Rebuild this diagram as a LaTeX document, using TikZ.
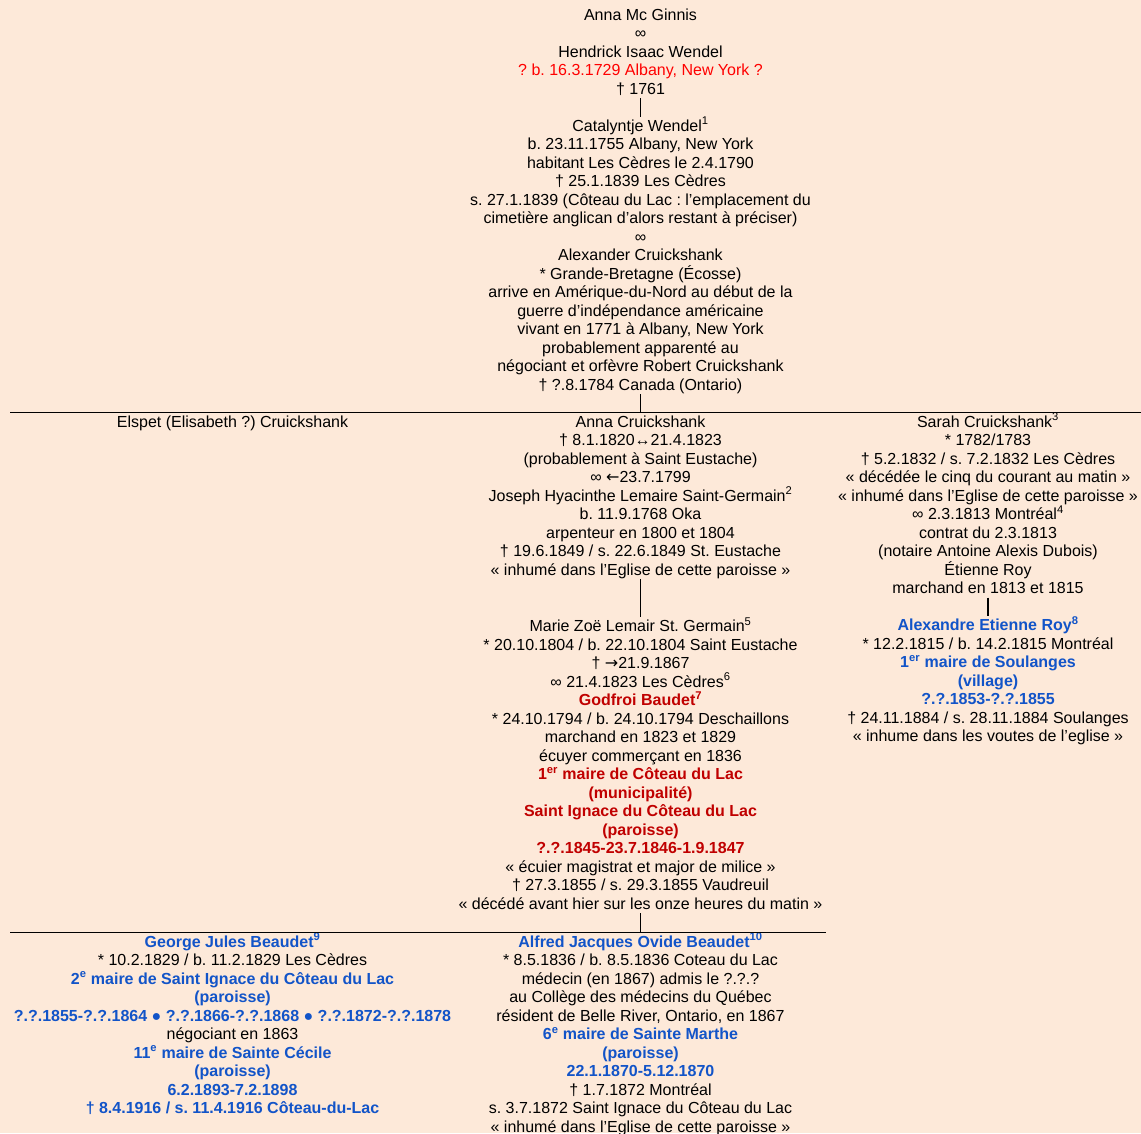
\documentclass[tikz,border=0pt]{standalone}
\usepackage{fontspec}
\setmainfont{Liberation Sans}
\newfontfamily\arrowfont{DejaVu Sans}
\usetikzlibrary{positioning}
\definecolor{peach}{HTML}{FDE9D9}
\definecolor{doubtred}{HTML}{FF0000}
\definecolor{mayorred}{HTML}{C00000}
\definecolor{mayorblue}{HTML}{1254C8}
\newcommand{\linestrut}{\rule[-4pt]{0pt}{18.5pt}}
\newcommand{\doubt}[1]{\textcolor{doubtred}{#1}}
\newcommand{\redmayor}[1]{\textcolor{mayorred}{\bfseries #1}}
\newcommand{\bluemayor}[1]{\textcolor{mayorblue}{\bfseries #1}}
\frenchspacing

\begin{document}
\begin{tikzpicture}[x=1pt,y=-1pt,node distance=18.5pt,
    person/.style={align=center,inner sep=0pt,outer sep=0pt,
        font=\fontsize{16}{18.5}\selectfont\linestrut},
    bar/.style={line width=1.8pt},
    link/.style={line width=1.1pt}]
    \fill[peach] (0,0) rectangle (1141,1133);
    \useasboundingbox (0,0) rectangle (1141,1133);
    \coordinate (leftedge) at (10,0);
    \coordinate (rightedge) at (1141,0);
    \coordinate (bar2end) at (826,0);
    \coordinate (leftcol) at (232.5,0);
    \coordinate (rightcol) at (988,0);

    \node[person,anchor=north] (wendel) at (640.5,5.5)
        {\linestrut Anna Mc Ginnis\\
         ∞\\
         Hendrick Isaac Wendel\\
         \doubt{? b. 16.3.1729 Albany, New York ?}\\
         † 1761};
    \node[person,below=of wendel] (catalyntje)
        {\linestrut Catalyntje Wendel\textsuperscript{1}\\
         b. 23.11.1755 Albany, New York\\
         habitant Les Cèdres le 2.4.1790\\
         † 25.1.1839 Les Cèdres\\
         s. 27.1.1839 (Côteau du Lac : l’emplacement du\\
         cimetière anglican d’alors restant à préciser)\\
         ∞\\
         Alexander Cruickshank\\
         {*} Grande-Bretagne (Écosse)\\
         arrive en Amérique-du-Nord au début de la\\
         guerre d’indépendance américaine\\
         vivant en 1771 à Albany, New York\\
         probablement apparenté au\\
         négociant et orfèvre Robert Cruickshank\\
         † ?.8.1784 Canada (Ontario)};

    \node[person,below=of catalyntje] (anna)
        {\linestrut Anna Cruickshank\\
         † 8.1.1820↔21.4.1823\\
         (probablement à Saint Eustache)\\
         ∞ {\arrowfont ←}23.7.1799\\
         Joseph Hyacinthe Lemaire Saint-Germain\textsuperscript{2}\\
         b. 11.9.1768 Oka\\
         arpenteur en 1800 et 1804\\
         † 19.6.1849 / s. 22.6.1849 St. Eustache\\
         « inhumé dans l’Eglise de cette paroisse »};
    \coordinate (bar1) at (anna.north);
    \node[person,anchor=north] (elspet) at (anna.north -| leftcol)
        {Elspet (Elisabeth ?) Cruickshank};
    \node[person,anchor=north] (sarah) at (anna.north -| rightcol)
        {\linestrut Sarah Cruickshank\textsuperscript{3}\\
         {*} 1782/1783\\
         † 5.2.1832 / s. 7.2.1832 Les Cèdres\\
         « décédée le cinq du courant au matin »\\
         « inhumé dans l’Eglise de cette paroisse »\\
         ∞ 2.3.1813 Montréal\textsuperscript{4}\\
         contrat du 2.3.1813\\
         (notaire Antoine Alexis Dubois)\\
         Étienne Roy\\
         marchand en 1813 et 1815};
    \node[person,below=of sarah] (alexandre)
        {\linestrut\bluemayor{Alexandre Etienne Roy\textsuperscript{8}}\\
         {*} 12.2.1815 / b. 14.2.1815 Montréal\\
         \bluemayor{1\textsuperscript{er} maire de Soulanges}\\
         \bluemayor{(village)}\\
         \bluemayor{?.?.1853-?.?.1855}\\
         † 24.11.1884 / s. 28.11.1884 Soulanges\\
         « inhume dans les voutes de l’eglise »};
    \node[person,below=38pt of anna] (zoe)
        {\linestrut Marie Zoë Lemair St. Germain\textsuperscript{5}\\
         {*} 20.10.1804 / b. 22.10.1804 Saint Eustache\\
         † {\arrowfont →}21.9.1867\\
         ∞ 21.4.1823 Les Cèdres\textsuperscript{6}\\
         \redmayor{Godfroi Baudet\textsuperscript{7}}\\
         {*} 24.10.1794 / b. 24.10.1794 Deschaillons\\
         marchand en 1823 et 1829\\
         écuyer commerçant en 1836\\
         \redmayor{1\textsuperscript{er} maire de Côteau du Lac}\\
         \redmayor{(municipalité)}\\
         \redmayor{Saint Ignace du Côteau du Lac}\\
         \redmayor{(paroisse)}\\
         \redmayor{?.?.1845-23.7.1846-1.9.1847}\\
         « écuier magistrat et major de milice »\\
         † 27.3.1855 / s. 29.3.1855 Vaudreuil\\
         « décédé avant hier sur les onze heures du matin »};

    \node[person,below=19.5pt of zoe] (alfred)
        {\linestrut\bluemayor{Alfred Jacques Ovide Beaudet\textsuperscript{10}}\\
         {*} 8.5.1836 / b. 8.5.1836 Coteau du Lac\\
         médecin (en 1867) admis le ?.?.?\\
         au Collège des médecins du Québec\\
         résident de Belle River, Ontario, en 1867\\
         \bluemayor{6\textsuperscript{e} maire de Sainte Marthe}\\
         \bluemayor{(paroisse)}\\
         \bluemayor{22.1.1870-5.12.1870}\\
         † 1.7.1872 Montréal\\
         s. 3.7.1872 Saint Ignace du Côteau du Lac\\
         « inhumé dans l’Eglise de cette paroisse »};
    \coordinate (bar2) at (alfred.north);
    \node[person,anchor=north] (george) at (alfred.north -| leftcol)
        {\linestrut\bluemayor{George Jules Beaudet\textsuperscript{9}}\\
         {*} 10.2.1829 / b. 11.2.1829 Les Cèdres\\
         \bluemayor{2\textsuperscript{e} maire de Saint Ignace du Côteau du Lac}\\
         \bluemayor{(paroisse)}\\
         \bluemayor{?.?.1855-?.?.1864 ● ?.?.1866-?.?.1868 ● ?.?.1872-?.?.1878}\\
         négociant en 1863\\
         \bluemayor{11\textsuperscript{e} maire de Sainte Cécile}\\
         \bluemayor{(paroisse)}\\
         \bluemayor{6.2.1893-7.2.1898}\\
         \bluemayor{† 8.4.1916 / s. 11.4.1916 Côteau-du-Lac}};

    \draw[bar] (bar1 -| leftedge) -- (bar1 -| rightedge);
    \draw[bar] (bar2 -| leftedge) -- (bar2 -| bar2end);
    \draw[link] (wendel) -- (catalyntje)
        (catalyntje) -- (bar1)
        (anna) -- (zoe)
        (sarah) -- (alexandre)
        (zoe) -- (bar2);
\end{tikzpicture}
\end{document}
